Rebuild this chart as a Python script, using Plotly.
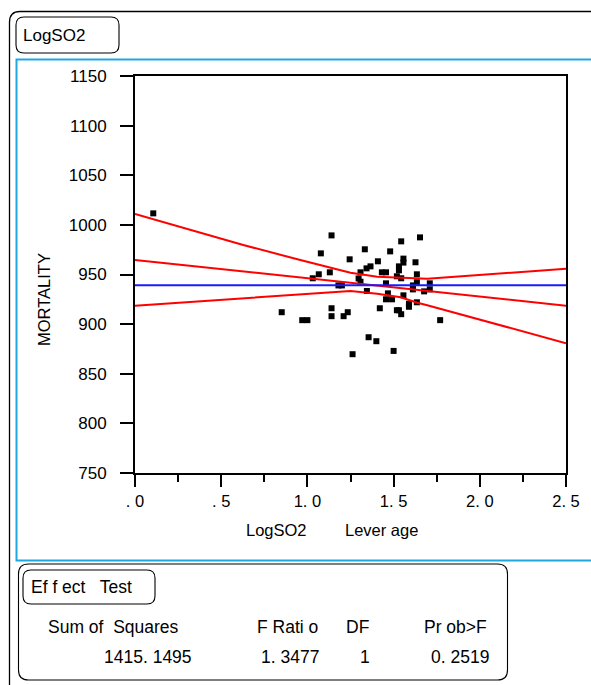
import plotly.graph_objects as go

# ---------------- data ----------------
leverage_x = [0.106, 0.851, 0.97, 1.00, 1.031, 1.066, 1.078, 1.13, 1.14, 1.14,
              1.14, 1.18, 1.20, 1.21, 1.234, 1.245, 1.262, 1.297, 1.308, 1.308,
              1.333, 1.343, 1.345, 1.355, 1.366, 1.40, 1.409, 1.42, 1.432, 1.456,
              1.456, 1.456, 1.467, 1.48, 1.491, 1.50, 1.519, 1.519, 1.531, 1.531,
              1.531, 1.544, 1.544, 1.544, 1.557, 1.557, 1.557, 1.589, 1.589, 1.612,
              1.612, 1.627, 1.635, 1.635, 1.635, 1.653, 1.677, 1.71, 1.71, 1.77]
leverage_y = [1011.6, 912, 904, 904, 946.2, 950.2, 971.3, 952.2, 989.4, 916,
              908, 939, 939, 908, 912, 965.3, 869.7, 946, 952.2, 942.7,
              975.4, 956.2, 933.4, 886.8, 958.2, 882.8, 963.3, 916, 952.2, 952.2,
              941.1, 925, 931, 973.3, 925, 873, 948.2, 914, 914, 958.2,
              954.2, 983.4, 946.2, 910, 966, 962, 929, 920.5, 917.5, 939,
              935, 962.3, 950.2, 942.2, 922, 987.4, 933, 941.1, 935, 904]

fit_x = [0.0, 2.5]
fit_y = [964.6, 918.6]
upper_x = [0.0, 0.628, 0.959, 1.25, 1.405, 1.695, 2.5]
upper_y = [1010.9, 979.7, 964.6, 951.8, 947.8, 945.8, 955.8]
lower_x = [0.0, 0.959, 1.25, 1.405, 1.541, 1.638, 1.695, 2.5]
lower_y = [918.5, 930.1, 933.4, 930.7, 927.1, 921.6, 919.0, 880.8]
mean_x = [0.0, 2.5]
mean_y = [939.1, 939.1]

x_tickvals = [0, 0.5, 1.0, 1.5, 2.0, 2.5]
x_ticktext = [". 0", ". 5", "1. 0", "1. 5", "2. 0", "2. 5"]
y_tickvals = [750, 800, 850, 900, 950, 1000, 1050, 1100, 1150]

effect_headers = ["Sum of  Squares", "F Rati o", "DF", "Pr ob>F"]
effect_values = ["1415. 1495", "1. 3477", "1", "0. 2519"]

# ---------------- layout helpers (pixel -> paper) ----------------
W, H = 591, 685
L, R, T, B = 135, 566, 76, 473
FONT = "Liberation Sans, Arial, sans-serif"


def px(x):
    return (x - L) / (R - L)


def py(y):
    return (B - y) / (B - T)


def pt(x, y):
    return f"{px(x):.5f},{py(y):.5f}"


def rrect(x0, y0, x1, y1, r):
    return (f"M {pt(x0 + r, y0)} L {pt(x1 - r, y0)} Q {pt(x1, y0)} {pt(x1, y0 + r)} "
            f"L {pt(x1, y1 - r)} Q {pt(x1, y1)} {pt(x1 - r, y1)} "
            f"L {pt(x0 + r, y1)} Q {pt(x0, y1)} {pt(x0, y1 - r)} "
            f"L {pt(x0, y0 + r)} Q {pt(x0, y0)} {pt(x0 + r, y0)} Z")


fig = go.Figure()

fig.add_trace(go.Scatter(x=leverage_x, y=leverage_y, mode="markers",
                         marker=dict(symbol="square", size=6, color="black",
                                     line=dict(width=0)),
                         showlegend=False, hoverinfo="skip"))
fig.add_trace(go.Scatter(x=upper_x, y=upper_y, mode="lines",
                         line=dict(color="#ff0000", width=2), showlegend=False))
fig.add_trace(go.Scatter(x=fit_x, y=fit_y, mode="lines",
                         line=dict(color="#ff0000", width=2), showlegend=False))
fig.add_trace(go.Scatter(x=lower_x, y=lower_y, mode="lines",
                         line=dict(color="#ff0000", width=2), showlegend=False))
fig.add_trace(go.Scatter(x=mean_x, y=mean_y, mode="lines",
                         line=dict(color="#1a1aff", width=2), showlegend=False))

shapes = []
# outer black frame (open to the right and bottom)
shapes.append(dict(type="path", xref="paper", yref="paper",
                   path=f"M {pt(9.5, 700)} L {pt(9.5, 22)} Q {pt(9.5, 11.5)} {pt(20, 11.5)} L {pt(620, 11.5)}",
                   line=dict(color="black", width=1.3)))
# LogSO2 tab
shapes.append(dict(type="path", xref="paper", yref="paper",
                   path=rrect(16, 17, 119, 53, 8),
                   line=dict(color="black", width=1.1)))
# blue frame
shapes.append(dict(type="rect", xref="paper", yref="paper",
                   x0=px(16.5), x1=px(640), y0=py(560.5), y1=py(59.5),
                   line=dict(color="#1fa8e0", width=2)))
# Effect test box
shapes.append(dict(type="path", xref="paper", yref="paper",
                   path=rrect(18.5, 564, 507.5, 680, 10),
                   line=dict(color="black", width=1.1)))
shapes.append(dict(type="path", xref="paper", yref="paper",
                   path=rrect(23, 570, 155, 604, 8),
                   line=dict(color="black", width=1.1)))

ann = []


def text(s, x, y, size=17, anchor="left", angle=0):
    ann.append(dict(text=s, x=px(x), y=py(y), xref="paper", yref="paper",
                    xanchor=anchor, yanchor="middle", showarrow=False,
                    textangle=angle, font=dict(family=FONT, size=size, color="black")))


text("LogSO2", 21, 36, 17)
text("LogSO2", 276, 530, 16.5, "center")
text("Lever age", 381, 530, 16.5, "center")
text("MORTALITY", 44, 300, 16.5, "center", -90)
text("Ef f ect   Test", 29, 587, 17.5)
for s, cx in zip(effect_headers, [113, 287, 357, 455]):
    text(s, cx, 627, 17.5, "center")
for s, cx in zip(effect_values, [148, 290, 365, 460]):
    text(s, cx, 657, 17.5, "center")

fig.update_layout(
    width=W, height=H, autosize=False,
    margin=dict(l=L, r=W - R, t=T, b=H - B, pad=0),
    paper_bgcolor="white", plot_bgcolor="white",
    font=dict(family=FONT, size=16, color="black"),
    shapes=shapes, annotations=ann,
    xaxis=dict(range=[0, 2.5], tickmode="array", tickvals=x_tickvals, ticktext=x_ticktext,
               showgrid=False, zeroline=False, showline=True, linecolor="black", linewidth=2,
               mirror=True, ticks="outside", ticklen=12, tickwidth=2, tickcolor="black",
               tickfont=dict(family=FONT, size=16.5),
               minor=dict(tickmode="linear", tick0=0, dtick=0.25, ticks="outside",
                          ticklen=7, tickwidth=1.5, tickcolor="black", showgrid=False)),
    yaxis=dict(range=[750, 1150], tickmode="array", tickvals=y_tickvals,
               showgrid=False, zeroline=False, showline=True, linecolor="black", linewidth=2,
               mirror=True, ticks="outside", ticklen=13, tickwidth=2, tickcolor="black",
               ticklabelstandoff=10,
               tickfont=dict(family=FONT, size=17)),
)

fig.write_html("out.html", config={"displayModeBar": False},
               post_script="document.body.style.margin='0px';document.body.style.padding='0px';")
